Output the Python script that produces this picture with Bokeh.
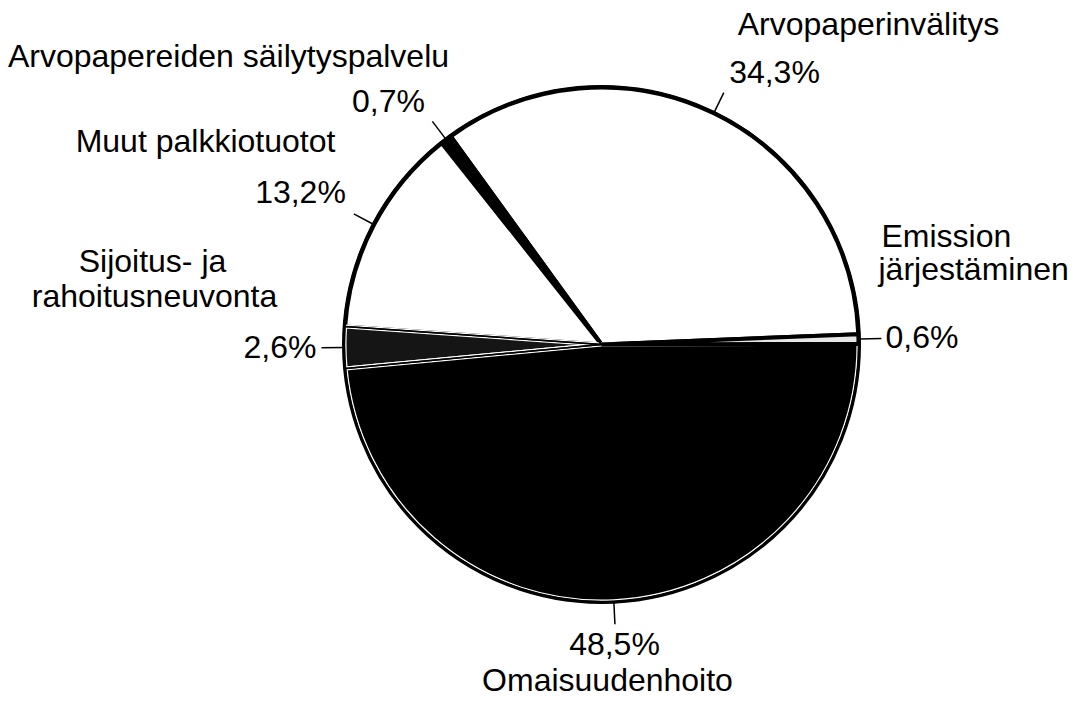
import math
from bokeh.plotting import figure
from bokeh.models import Range1d, ColumnDataSource
from bokeh.core.properties import value
from bokeh.embed import file_html
from bokeh.resources import INLINE

# ---- data ----
categories = ["Arvopaperinvälitys", "Arvopapereiden säilytyspalvelu", "Muut palkkiotuotot",
              "Sijoitus- ja rahoitusneuvonta", "Omaisuudenhoito", "Emission järjestäminen"]
shares = [34.3, 0.7, 13.2, 2.6, 48.5, 0.6]
pct_labels = ["34,3%", "0,7%", "13,2%", "2,6%", "48,5%", "0,6%"]

# ---- style / layout ----
fills = ["white", "black", "white", "#151515", "black", "#e6e6e6"]
inner_lines = ["black", "black", "black", "white", "white", "black"]
W, H = 1068, 696
CX, CY, R = 601, 712 - 344, 257
START_DEG = 2.3
FONT = value("Liberation Sans")
FS = "32px"
DY = -12  # text baseline correction

p = figure(width=W, height=H, output_backend="svg", toolbar_location=None,
           x_range=Range1d(0, W), y_range=Range1d(712 - H, 712),
           min_border=0)
p.axis.visible = False
p.grid.visible = False
p.outline_line_color = None
p.background_fill_color = "white"
p.border_fill_color = "white"

total = sum(shares)
starts, ends, mids = [], [], []
a = math.radians(START_DEG)
for s in shares:
    da = 2 * math.pi * s / total
    starts.append(a)
    ends.append(a + da)
    mids.append(a + da / 2)
    a += da

src = ColumnDataSource(dict(x=[CX] * len(shares), y=[CY] * len(shares),
                            start=starts, end=ends, fill=fills, lc=inner_lines))
p.wedge(x="x", y="y", radius=R, start_angle="start", end_angle="end",
        fill_color="fill", line_color="lc", line_width=4, source=src)
p.wedge(x="x", y="y", radius=R, start_angle="start", end_angle="end",
        fill_color=None, line_color="black", line_width=1.5, source=src)
p.circle(x=[CX], y=[CY], radius=R + 1, fill_color=None, line_color="black", line_width=3)

# leader lines at slice mid angles
xs, ys = [], []
for m in mids:
    xs.append([CX + (R + 1) * math.cos(m), CX + (R + 23) * math.cos(m)])
    ys.append([CY + (R + 1) * math.sin(m), CY + (R + 23) * math.sin(m)])
p.multi_line(xs=xs, ys=ys, line_color="black", line_width=1.5)

def txt(t, x, y_ref, align="center"):
    p.text(x=[x], y=[712 - (y_ref + DY)], text=[t], text_font=FONT, text_font_size=FS,
           text_align=align, text_baseline="alphabetic", text_color="black")

# category labels
txt("Arvopaperinvälitys", 868, 35)
txt("Arvopapereiden säilytyspalvelu", 228, 67)
txt("Muut palkkiotuotot", 205, 152)
txt("Sijoitus- ja", 152, 272)
txt("rahoitusneuvonta", 154, 307)
txt("Emission", 881, 247, "left")
txt("järjestäminen", 878, 280, "left")
txt("Omaisuudenhoito", 607, 691)

# percentage labels
txt(pct_labels[0], 774, 83)
txt(pct_labels[1], 388, 112)
txt(pct_labels[2], 300, 203)
txt(pct_labels[3], 316, 358, "right")
txt(pct_labels[4], 614, 655)
txt(pct_labels[5], 885, 348, "left")

open("out.html", "w").write(file_html(p, INLINE))
